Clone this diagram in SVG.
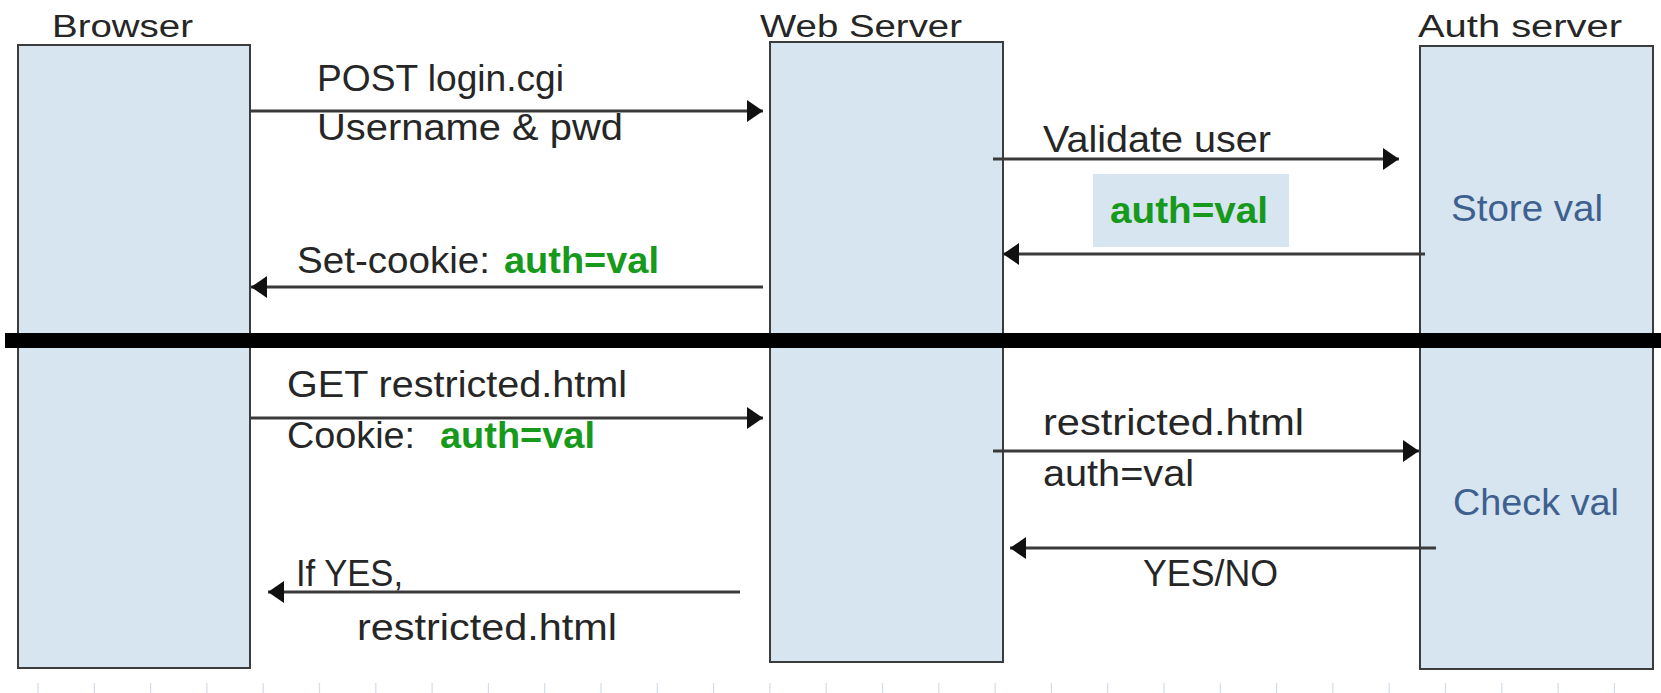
<svg xmlns="http://www.w3.org/2000/svg" width="1661" height="693" viewBox="0 0 1661 693">
<style>
.box{fill:#d6e5f0;stroke:#3c3c3c;stroke-width:2}
.t{font-family:"Liberation Sans",Arial,sans-serif;fill:#262626}
.title{font-size:31px}
.lbl{font-size:36px}
.g{fill:#17991c;font-weight:bold}
.b{fill:#3f5f8e}
.conn{stroke:#3a3a3a;stroke-width:3;fill:none}
.tick{stroke:#d3dcec;stroke-width:1.2}
</style>
<defs>
<marker id="ah" viewBox="0 0 16 22" refX="16" refY="11" markerWidth="16" markerHeight="22" markerUnits="userSpaceOnUse" orient="auto">
<path d="M0,0 L16,11 L0,22 Z" fill="#111"/>
</marker>
</defs>
<rect width="1661" height="693" fill="#ffffff"/>

<g id="browser">
<rect class="box" x="18" y="45" width="232" height="623"/>
<text class="t title" x="52" y="37" textLength="141" lengthAdjust="spacingAndGlyphs">Browser</text>
</g>
<g id="webserver">
<rect class="box" x="770" y="42" width="233" height="620"/>
<text class="t title" x="760" y="37" textLength="202" lengthAdjust="spacingAndGlyphs">Web Server</text>
</g>
<g id="authserver">
<rect class="box" x="1420" y="46" width="233" height="623"/>
<text class="t title" x="1418" y="37" textLength="204" lengthAdjust="spacingAndGlyphs">Auth server</text>
<text class="t lbl b" x="1451" y="221" textLength="152" lengthAdjust="spacingAndGlyphs">Store val</text>
<text class="t lbl b" x="1453" y="515" textLength="166" lengthAdjust="spacingAndGlyphs">Check val</text>
</g>
<g id="token">
<rect x="1093" y="174" width="196" height="73" fill="#d6e5f0"/>
<text class="t lbl g" x="1110" y="223" textLength="158" lengthAdjust="spacingAndGlyphs">auth=val</text>
</g>

<rect id="divider" x="5" y="333" width="1656" height="15" fill="#000"/>

<g id="connectors">
<line class="conn" x1="250" y1="111" x2="763" y2="111" marker-end="url(#ah)"/>
<line class="conn" x1="993" y1="159" x2="1399" y2="159" marker-end="url(#ah)"/>
<line class="conn" x1="1425" y1="254" x2="1003" y2="254" marker-end="url(#ah)"/>
<line class="conn" x1="763" y1="287" x2="251" y2="287" marker-end="url(#ah)"/>
<line class="conn" x1="250" y1="418" x2="763" y2="418" marker-end="url(#ah)"/>
<line class="conn" x1="993" y1="451" x2="1419" y2="451" marker-end="url(#ah)"/>
<line class="conn" x1="1436" y1="548" x2="1010" y2="548" marker-end="url(#ah)"/>
<line class="conn" x1="740" y1="592" x2="268" y2="592" marker-end="url(#ah)"/>
</g>

<g id="labels">
<text class="t lbl" x="317" y="91" textLength="247" lengthAdjust="spacingAndGlyphs">POST login.cgi</text>
<text class="t lbl" x="317" y="140" textLength="306" lengthAdjust="spacingAndGlyphs">Username &amp; pwd</text>
<text class="t lbl" x="1043" y="152" textLength="228" lengthAdjust="spacingAndGlyphs">Validate user</text>
<text class="t lbl" x="297" y="273" textLength="193" lengthAdjust="spacingAndGlyphs">Set-cookie:</text>
<text class="t lbl g" x="504" y="273" textLength="155" lengthAdjust="spacingAndGlyphs">auth=val</text>
<text class="t lbl" x="287" y="397" textLength="340" lengthAdjust="spacingAndGlyphs">GET restricted.html</text>
<text class="t lbl" x="287" y="448" textLength="128" lengthAdjust="spacingAndGlyphs">Cookie:</text>
<text class="t lbl g" x="440" y="448" textLength="155" lengthAdjust="spacingAndGlyphs">auth=val</text>
<text class="t lbl" x="1043" y="435" textLength="261" lengthAdjust="spacingAndGlyphs">restricted.html</text>
<text class="t lbl" x="1043" y="486" textLength="151" lengthAdjust="spacingAndGlyphs">auth=val</text>
<text class="t lbl" x="1143" y="586" textLength="135" lengthAdjust="spacingAndGlyphs">YES/NO</text>
<text class="t lbl" x="296" y="586" textLength="107" lengthAdjust="spacingAndGlyphs">If YES,</text>
<text class="t lbl" x="357" y="640" textLength="260" lengthAdjust="spacingAndGlyphs">restricted.html</text>
</g>

<g id="ticks">
<path class="tick" d="M38,683V693M94.3,683V693M150.6,683V693M206.9,683V693M263.2,683V693M319.5,683V693M375.8,683V693M432.1,683V693M488.4,683V693M544.7,683V693M601,683V693M657.3,683V693M713.6,683V693M769.9,683V693M826.2,683V693M882.5,683V693M938.8,683V693M995.1,683V693M1051.4,683V693M1107.7,683V693M1164,683V693M1220.3,683V693M1276.6,683V693M1332.9,683V693M1389.2,683V693M1445.5,683V693M1501.8,683V693M1558.1,683V693M1614.4,683V693"/>
</g>
</svg>
